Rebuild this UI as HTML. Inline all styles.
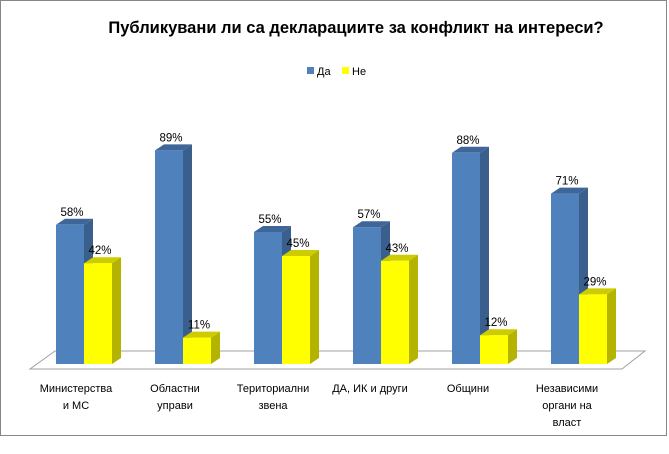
<!DOCTYPE html>
<html><head><meta charset="utf-8"><style>
body{margin:0;background:#fff}
svg{display:block;font-family:"Liberation Sans","DejaVu Sans",sans-serif}
</style></head><body>
<svg width="669" height="454" xmlns="http://www.w3.org/2000/svg">
<rect x="0.5" y="0.5" width="666" height="435" fill="#fff" stroke="#868686"/>
<text x="356" y="33" text-anchor="middle" font-size="16.5" font-weight="bold" fill="#000">Публикувани ли са декларациите за конфликт на интереси?</text>
<rect x="307" y="67" width="7" height="7" fill="#4f81bd"/>
<text x="317" y="75" font-size="11">Да</text>
<rect x="342" y="67" width="7" height="7" fill="#ffff00"/>
<text x="352" y="75" font-size="11">Не</text>
<polygon points="55,351 645,351 622,369 30,369" fill="none" stroke="#a0a0a0"/>
<g id="bars"></g>
<g font-size="11" text-anchor="middle" fill="#000">
<text x="76" y="392">Министерства</text><text x="76" y="409">и МС</text>
<text x="175" y="392">Областни</text><text x="175" y="409">управи</text>
<text x="273" y="392">Териториални</text><text x="273" y="409">звена</text>
<text x="370" y="392">ДА, ИК и други</text>
<text x="468" y="392">Общини</text>
<text x="567" y="392">Независими</text><text x="567" y="409">органи на</text><text x="567" y="426">власт</text>
</g>
</svg>
<script>
var d=[[58,42],[89,11],[55,45],[57,43],[88,12],[71,29]];
var g=document.getElementById('bars'),s='',B=364,k=2.4,dx=9,dy=6;
d.forEach(function(v,i){
 var x0=56+i*99;
 [[v[0],x0,'#4f81bd','#3a5f8c','#3e6699'],[v[1],x0+28,'#ffff00','#b3b300','#cccc00']].forEach(function(b){
  var h=b[0]*k,t=B-h,x=b[1],w=28;
  s+='<polygon points="'+(x+w)+','+t+' '+(x+w+dx)+','+(t-dy)+' '+(x+w+dx)+','+(B-dy)+' '+(x+w)+','+B+'" fill="'+b[3]+'"/>';
  s+='<polygon points="'+x+','+t+' '+(x+dx)+','+(t-dy)+' '+(x+w+dx)+','+(t-dy)+' '+(x+w)+','+t+'" fill="'+b[4]+'"/>';
  s+='<rect x="'+x+'" y="'+t+'" width="'+w+'" height="'+h+'" fill="'+b[2]+'"/>';
  s+='<text x="'+(x+w/2+2)+'" y="'+(t-9)+'" font-size="11.5" text-anchor="middle">'+b[0]+'%</text>';
 });
});
g.innerHTML=s;
</script>
</body></html>
